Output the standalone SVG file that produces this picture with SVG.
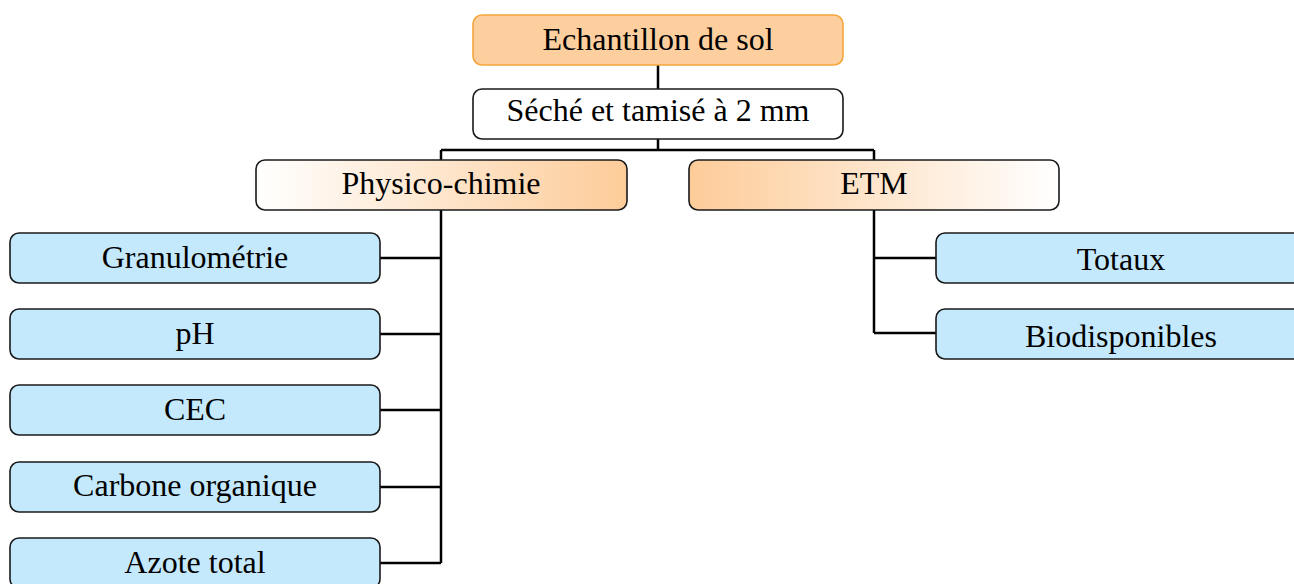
<svg xmlns="http://www.w3.org/2000/svg" width="1294" height="584" viewBox="0 0 1294 584">
<style>
.box{stroke:#1a1a1a;stroke-width:1.6}
.blue{fill:#c5e9fc}
.c{fill:none;stroke:#000;stroke-width:2.5}
</style>
<defs>
<linearGradient id="gR" x1="0" y1="0" x2="1" y2="0">
<stop offset="0" stop-color="#ffffff"/><stop offset="1" stop-color="#fdcc99"/>
</linearGradient>
<linearGradient id="gL" x1="0" y1="0" x2="1" y2="0">
<stop offset="0" stop-color="#fdcc99"/><stop offset="1" stop-color="#ffffff"/>
</linearGradient>
</defs>
<g id="connectors">
<path class="c" d="M658 65V90M658 139V150M441 150H874M441 150V563M874 150V333"/>
<path class="c" d="M380 258H441M380 334H441M380 410H441M380 487H441M380 563H441M874 258H936M874 333H936"/>
</g>
<g font-family="Liberation Serif, Times New Roman, serif" font-size="32" text-anchor="middle" fill="#000">
<g id="n-echantillon"><rect x="473" y="15" width="370" height="50" rx="9" fill="#fdcf9e" stroke="#f5a53a" stroke-width="1.6"/><text x="658" y="50">Echantillon de sol</text></g>
<g id="n-seche"><rect class="box" x="473" y="89" width="370" height="50" rx="9" fill="#fff"/><text x="658" y="121">Séché et tamisé à 2 mm</text></g>
<g id="n-physico"><rect class="box" x="256" y="160" width="371" height="50" rx="9" fill="url(#gR)"/><text x="441" y="194">Physico-chimie</text></g>
<g id="n-etm"><rect class="box" x="689" y="160" width="370" height="50" rx="9" fill="url(#gL)"/><text x="874" y="194">ETM</text></g>
<g id="n-granulo"><rect class="box blue" x="10" y="233" width="370" height="50" rx="9"/><text x="195" y="268">Granulométrie</text></g>
<g id="n-ph"><rect class="box blue" x="10" y="309" width="370" height="50" rx="9"/><text x="195" y="344">pH</text></g>
<g id="n-cec"><rect class="box blue" x="10" y="385" width="370" height="50" rx="9"/><text x="195" y="420">CEC</text></g>
<g id="n-carbone"><rect class="box blue" x="10" y="462" width="370" height="50" rx="9"/><text x="195" y="496">Carbone organique</text></g>
<g id="n-azote"><rect class="box blue" x="10" y="538" width="370" height="50" rx="9"/><text x="195" y="573">Azote total</text></g>
<g id="n-totaux"><rect class="box blue" x="936" y="233" width="372" height="50" rx="9"/><text x="1121" y="270">Totaux</text></g>
<g id="n-bio"><rect class="box blue" x="936" y="309" width="372" height="50" rx="9"/><text x="1121" y="347">Biodisponibles</text></g>
</g>
</svg>
